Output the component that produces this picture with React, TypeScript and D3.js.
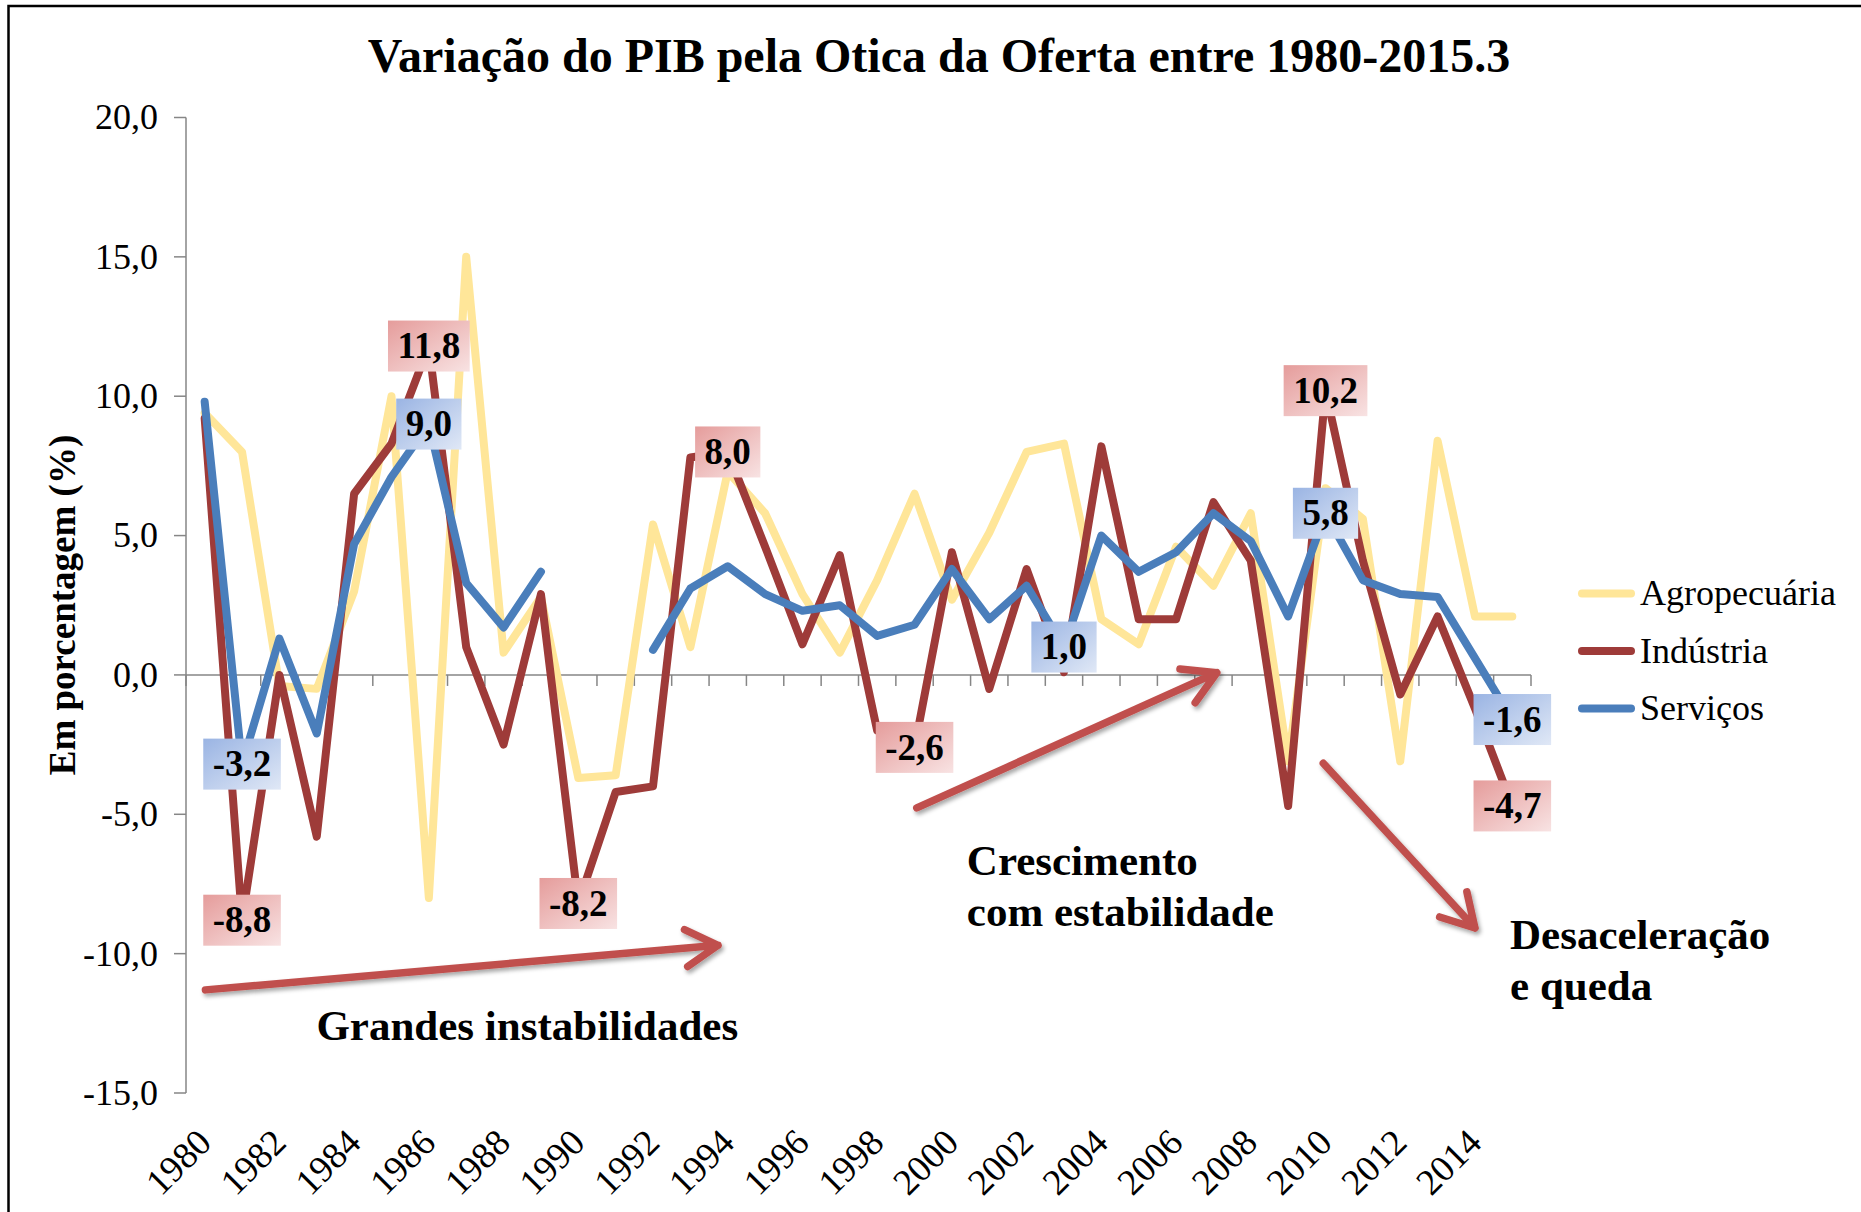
import React, { useEffect, useRef } from "react";
import * as d3 from "d3";

const years = [
  1980, 1981, 1982, 1983, 1984, 1985, 1986, 1987, 1988, 1989, 1990, 1991,
  1992, 1993, 1994, 1995, 1996, 1997, 1998, 1999, 2000, 2001, 2002, 2003,
  2004, 2005, 2006, 2007, 2008, 2009, 2010, 2011, 2012, 2013, 2014, 2015,
];

const agropecuaria = [
  9.4, 8.0, -0.4, -0.5, 3.0, 10.0, -8.0, 15.0, 0.8, 2.8, -3.7, -3.6, 5.4, 1.0,
  7.3, 5.8, 2.9, 0.8, 3.4, 6.5, 2.7, 5.1, 8.0, 8.3, 2.0, 1.1, 4.6, 3.2, 5.8,
  -3.1, 6.7, 5.6, -3.1, 8.4, 2.1, 2.1,
];

const industria = [
  9.2, -8.8, 0.0, -5.8, 6.5, 8.3, 11.8, 1.0, -2.5, 2.9, -8.2, -4.2, -4.0, 7.8,
  8.0, 4.6, 1.1, 4.3, -2.0, -2.6, 4.4, -0.5, 3.8, 0.1, 8.2, 2.0, 2.0, 6.2, 4.1,
  -4.7, 10.2, 4.1, -0.7, 2.1, -1.2, -4.7,
];

// 1990 e 1991 sem dado
const servicos = [
  9.8, -3.2, 1.3, -2.1, 4.7, 7.1, 9.0, 3.3, 1.7, 3.7, null, null, 0.9, 3.1,
  3.9, 2.9, 2.3, 2.5, 1.4, 1.8, 3.8, 2.0, 3.2, 1.0, 5.0, 3.7, 4.4, 5.8, 4.8,
  2.1, 5.8, 3.4, 2.9, 2.8, 0.6, -1.6,
];

const yTicks = [-15, -10, -5, 0, 5, 10, 15, 20];
const yearTicks = [
  1980, 1982, 1984, 1986, 1988, 1990, 1992, 1994, 1996, 1998, 2000, 2002,
  2004, 2006, 2008, 2010, 2012, 2014,
];

const industriaLabelYears = [1981, 1986, 1990, 1994, 1999, 2010, 2015];
const servicosLabelYears = [1981, 1986, 2003, 2010, 2015];

const seriesNames = ["Agropecuária", "Indústria", "Serviços"];
const seriesColors = ["#FFE699", "#9E3B39", "#4A7EBB"];

// setas e textos, em coordenadas (ano, %)
const arrows = [
  { from: [1980.02, -11.3], to: [1993.74, -9.7] },
  { from: [1999.06, -4.77], to: [2007.09, 0.08] },
  { from: [2009.94, -3.17], to: [2014.0, -9.08] },
];
const notes = [
  { at: [1982.99, -13.1], lines: ["Grandes instabilidades"] },
  { at: [2000.4, -7.18], lines: ["Crescimento", "com estabilidade"] },
  { at: [2014.94, -9.83], lines: ["Desaceleração", "e queda"] },
];

const fmt = (v) => v.toFixed(1).replace(".", ",");

const App = () => {
  const chartRef = useRef();

  useEffect(() => {
    const W = 1861;
    const H = 1212;
    const left = 186;
    const right = 1531;
    const top = 117.5;
    const bottom = 1093;
    const font = "'Liberation Serif', 'Times New Roman', serif";

    const svg = d3.select(chartRef.current).attr("width", W).attr("height", H);
    svg.selectAll("*").remove();

    const defs = svg.append("defs");
    const grad = (id, c0, c1) => {
      const g = defs
        .append("linearGradient")
        .attr("id", id)
        .attr("x1", "0%")
        .attr("y1", "0%")
        .attr("x2", "100%")
        .attr("y2", "100%");
      g.append("stop").attr("offset", "0%").attr("stop-color", c0);
      g.append("stop").attr("offset", "100%").attr("stop-color", c1);
    };
    grad("gradRed", "#E59C9B", "#F8E3E3");
    grad("gradBlue", "#9AB4E3", "#E0E8F6");
    defs
      .append("filter")
      .attr("id", "shadow")
      .attr("x", "-20%")
      .attr("y", "-20%")
      .attr("width", "140%")
      .attr("height", "140%")
      .append("feDropShadow")
      .attr("dx", 2)
      .attr("dy", 3)
      .attr("stdDeviation", 2)
      .attr("flood-color", "#000")
      .attr("flood-opacity", 0.35);

    svg.append("rect").attr("width", W).attr("height", H).attr("fill", "#fff");

    // moldura
    svg
      .append("path")
      .attr("d", `M8.5,${H} V6 H${W}`)
      .attr("fill", "none")
      .attr("stroke", "#000")
      .attr("stroke-width", 2.5);

    const x = d3.scaleBand().domain(years).range([left, right]).padding(0);
    const cx = (yr) => x(yr) + x.bandwidth() / 2;
    const xYear = d3
      .scaleLinear()
      .domain([years[0] - 0.5, years[years.length - 1] + 0.5])
      .range([left, right]);
    const y = d3.scaleLinear().domain([-15, 20]).range([bottom, top]);

    // titulo
    svg
      .append("text")
      .attr("x", 939)
      .attr("y", 72)
      .attr("text-anchor", "middle")
      .attr("font-family", font)
      .attr("font-weight", "bold")
      .attr("font-size", 48)
      .text("Variação do PIB pela Otica da Oferta entre 1980-2015.3");

    // eixo y
    const axisColor = "#868686";
    svg
      .append("line")
      .attr("x1", left)
      .attr("x2", left)
      .attr("y1", top)
      .attr("y2", bottom)
      .attr("stroke", axisColor)
      .attr("stroke-width", 1.5);
    yTicks.forEach((t) => {
      svg
        .append("line")
        .attr("x1", left - 12)
        .attr("x2", left)
        .attr("y1", y(t))
        .attr("y2", y(t))
        .attr("stroke", axisColor)
        .attr("stroke-width", 1.5);
      svg
        .append("text")
        .attr("x", 158)
        .attr("y", y(t))
        .attr("dy", "0.33em")
        .attr("text-anchor", "end")
        .attr("font-family", font)
        .attr("font-size", 36)
        .text(fmt(t));
    });

    svg
      .append("text")
      .attr("transform", `translate(63,605) rotate(-90)`)
      .attr("dy", "0.33em")
      .attr("text-anchor", "middle")
      .attr("font-family", font)
      .attr("font-weight", "bold")
      .attr("font-size", 37)
      .text("Em porcentagem (%)");

    // eixo x na linha do zero
    svg
      .append("line")
      .attr("x1", left)
      .attr("x2", right)
      .attr("y1", y(0))
      .attr("y2", y(0))
      .attr("stroke", axisColor)
      .attr("stroke-width", 1.5);
    years.concat([null]).forEach((yr, i) => {
      const tx = i < years.length ? x(yr) : right;
      svg
        .append("line")
        .attr("x1", tx)
        .attr("x2", tx)
        .attr("y1", y(0))
        .attr("y2", y(0) + 11)
        .attr("stroke", axisColor)
        .attr("stroke-width", 1.5);
    });
    yearTicks.forEach((yr) => {
      svg
        .append("text")
        .attr("transform", `translate(${cx(yr)},1136) rotate(-45)`)
        .attr("dy", "0.33em")
        .attr("text-anchor", "end")
        .attr("font-family", font)
        .attr("font-size", 37)
        .text(yr);
    });

    // series
    const allSeries = [agropecuaria, industria, servicos];
    const line = d3
      .line()
      .defined((d) => d != null)
      .x((d, i) => cx(years[i]))
      .y((d) => y(d));
    allSeries.forEach((s, k) => {
      svg
        .append("path")
        .datum(s)
        .attr("d", line)
        .attr("fill", "none")
        .attr("stroke", seriesColors[k])
        .attr("stroke-width", 8)
        .attr("stroke-linejoin", "round")
        .attr("stroke-linecap", "round");
    });

    // setas
    arrows.forEach((a) => {
      const x1 = xYear(a.from[0]);
      const y1 = y(a.from[1]);
      const x2 = xYear(a.to[0]);
      const y2 = y(a.to[1]);
      const ang = Math.atan2(y2 - y1, x2 - x1);
      const len = 37;
      const spread = (30 * Math.PI) / 180;
      const h1 = [x2 - len * Math.cos(ang - spread), y2 - len * Math.sin(ang - spread)];
      const h2 = [x2 - len * Math.cos(ang + spread), y2 - len * Math.sin(ang + spread)];
      svg
        .append("path")
        .attr("d", `M${x1},${y1} L${x2},${y2} M${h1[0]},${h1[1]} L${x2},${y2} L${h2[0]},${h2[1]}`)
        .attr("fill", "none")
        .attr("stroke", "#C0504D")
        .attr("stroke-width", 7.5)
        .attr("stroke-linecap", "round")
        .attr("stroke-linejoin", "round")
        .attr("filter", "url(#shadow)");
    });

    notes.forEach((n) => {
      const t = svg
        .append("text")
        .attr("x", xYear(n.at[0]))
        .attr("y", y(n.at[1]))
        .attr("font-family", font)
        .attr("font-weight", "bold")
        .attr("font-size", 43);
      n.lines.forEach((l, i) => {
        t.append("tspan")
          .attr("x", xYear(n.at[0]))
          .attr("dy", i === 0 ? 0 : 51)
          .text(l);
      });
    });

    // rotulos de dados
    const addLabel = (yr, series, fill) => {
      const v = series[years.indexOf(yr)];
      const g = svg.append("g").attr("transform", `translate(${cx(yr)},${y(v)})`);
      const t = g
        .append("text")
        .attr("text-anchor", "middle")
        .attr("dy", "0.33em")
        .attr("font-family", font)
        .attr("font-weight", "bold")
        .attr("font-size", 37)
        .text(fmt(v));
      const w = t.node().getBBox().width + 19;
      const h = 51;
      g.insert("rect", "text")
        .attr("x", -w / 2)
        .attr("y", -h / 2)
        .attr("width", w)
        .attr("height", h)
        .attr("fill", fill);
    };
    industriaLabelYears.forEach((yr) => addLabel(yr, industria, "url(#gradRed)"));
    servicosLabelYears.forEach((yr) => addLabel(yr, servicos, "url(#gradBlue)"));

    // legenda
    seriesNames.forEach((name, k) => {
      const ly = 593.5 + k * 57.5;
      svg
        .append("line")
        .attr("x1", 1582)
        .attr("x2", 1631)
        .attr("y1", ly)
        .attr("y2", ly)
        .attr("stroke", seriesColors[k])
        .attr("stroke-width", 8)
        .attr("stroke-linecap", "round");
      svg
        .append("text")
        .attr("x", 1640)
        .attr("y", ly)
        .attr("dy", "0.33em")
        .attr("font-family", font)
        .attr("font-size", 36)
        .text(name);
    });
  }, []);

  return (
    <div style={{ position: "absolute", left: 0, top: 0 }}>
      <svg ref={chartRef}></svg>
    </div>
  );
};

export default App;
